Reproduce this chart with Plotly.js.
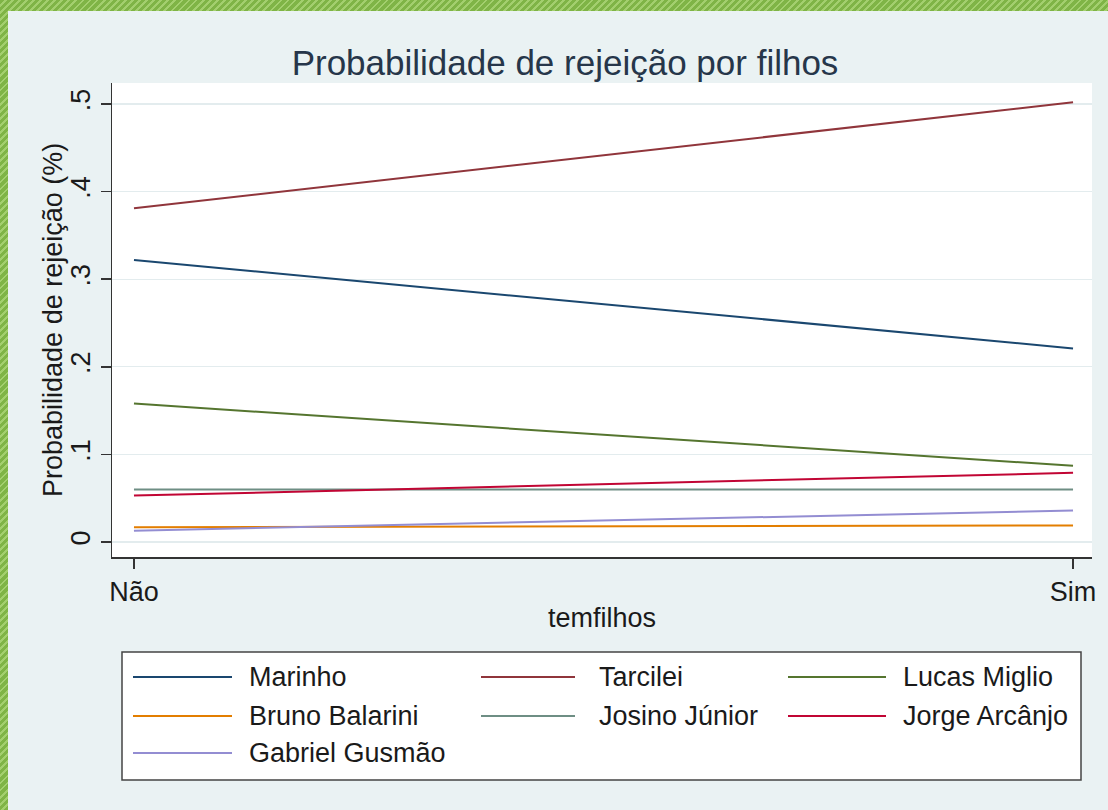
<!DOCTYPE html>
<html>
<head>
<meta charset="utf-8">
<script src="https://cdn.plot.ly/plotly-3.0.1.min.js"></script>
<style>
  html, body { margin: 0; padding: 0; width: 1108px; height: 810px; overflow: hidden; }
  body {
    background-color: #7fb446;
    background-image: repeating-linear-gradient(135deg, #7fb446 0px, #7fb446 3px, #a3cf6e 3px, #a3cf6e 5px);
  }
  #chart { position: absolute; left: 8px; top: 11px; width: 1100px; height: 799px; }
</style>
</head>
<body>
<div id="chart"></div>
<script>
// ---- data ----
const categories = ['Não', 'Sim'];
const xPositions = [0, 1];
const seriesNames = ['Marinho', 'Tarcilei', 'Lucas Miglio', 'Bruno Balarini', 'Josino Júnior', 'Jorge Arcânjo', 'Gabriel Gusmão'];
const marinho       = [0.322, 0.221];
const tarcilei      = [0.381, 0.502];
const lucasMiglio   = [0.158, 0.087];
const brunoBalarini = [0.017, 0.019];
const josinoJunior  = [0.060, 0.060];
const jorgeArcanjo  = [0.053, 0.079];
const gabrielGusmao = [0.013, 0.036];
const yTickVals   = [0, 0.1, 0.2, 0.3, 0.4, 0.5];
const yTickLabels = ['0', '.1', '.2', '.3', '.4', '.5'];
const titleText = 'Probabilidade de rejeição por filhos';
const xTitleText = 'temfilhos';
const yTitleText = 'Probabilidade de rejeição (%)';

const seriesValues = [marinho, tarcilei, lucasMiglio, brunoBalarini, josinoJunior, jorgeArcanjo, gabrielGusmao];
const seriesColors = ['#1a476f', '#90353b', '#55752f', '#e37e00', '#6e8e84', '#c10534', '#938dd2'];

const FONT = 'Liberation Sans, Arial, Helvetica, sans-serif';
const TXT = 27;
const M = { l: 104, r: 16, t: 72, b: 253 };
const W = 1100 - M.l - M.r;
const H = 799 - M.t - M.b;
const px = x => (x - M.l) / W;          // div px -> paper x
const py = y => (M.t + H - y) / H;      // div px -> paper y

const traces = seriesNames.map((name, i) => ({
  type: 'scatter',
  mode: 'lines',
  name: name,
  x: xPositions,
  y: seriesValues[i],
  line: { color: seriesColors[i], width: 2 },
  showlegend: false,
  hoverinfo: 'name+y'
}));

// ---- custom Stata-like legend (3 columns) ----
const shapes = [{
  type: 'rect', xref: 'paper', yref: 'paper',
  x0: px(114), x1: px(1073), y0: py(641), y1: py(769),
  line: { color: '#444', width: 1.5 }, fillcolor: '#ffffff', layer: 'below'
}];
const annotations = [];
const colLine = [[125, 224], [473, 567], [780, 878]];
const colText = [239, 589, 893];
const rowY = [666, 705, 742];
seriesNames.forEach((name, i) => {
  const c = i % 3, r = Math.floor(i / 3);
  shapes.push({
    type: 'line', xref: 'paper', yref: 'paper',
    x0: px(colLine[c][0]), x1: px(colLine[c][1]), y0: py(rowY[r]), y1: py(rowY[r]),
    line: { color: seriesColors[i], width: 2 }
  });
  annotations.push({
    xref: 'paper', yref: 'paper', x: px(colText[c]), y: py(rowY[r]),
    xanchor: 'left', yanchor: 'middle', showarrow: false, text: name,
    font: { family: FONT, size: TXT, color: '#1a1a1a' }
  });
});

// y-axis title (placed as in the reference)
annotations.push({
  xref: 'paper', yref: 'paper', x: px(45), y: 0.5,
  xanchor: 'center', yanchor: 'middle', textangle: -90, showarrow: false,
  text: yTitleText, font: { family: FONT, size: TXT, color: '#1a1a1a' }
});

const layout = {
  width: 1100, height: 799,
  margin: M,
  paper_bgcolor: '#eaf2f3',
  plot_bgcolor: '#ffffff',
  font: { family: FONT, color: '#1a1a1a', size: TXT },
  title: {
    text: titleText,
    font: { family: FONT, size: 35, color: '#26364a' },
    x: (565 - 8) / 1100, xanchor: 'center', xref: 'container',
    y: 1 - 52 / 799, yanchor: 'middle'
  },
  xaxis: {
    range: [-0.0234, 1.0202],
    tickvals: xPositions, ticktext: categories,
    showgrid: false, zeroline: false,
    showline: true, linecolor: '#333', linewidth: 1.5,
    ticks: 'outside', ticklen: 10, tickcolor: '#333', tickwidth: 1.5,
    tickfont: { family: FONT, size: TXT, color: '#1a1a1a' },
    title: { text: xTitleText, font: { family: FONT, size: TXT, color: '#1a1a1a' }, standoff: 2 },
    fixedrange: true
  },
  yaxis: {
    range: [-0.0171, 0.524],
    tickvals: yTickVals, ticktext: yTickLabels, tickangle: -90,
    showgrid: true, gridcolor: '#e3ecee', gridwidth: 1.2,
    zeroline: false,
    showline: true, linecolor: '#333', linewidth: 1.5,
    ticks: 'outside', ticklen: 10, tickcolor: '#333', tickwidth: 1.5,
    tickfont: { family: FONT, size: TXT, color: '#1a1a1a' },
    fixedrange: true
  },
  shapes: shapes,
  annotations: annotations,
  showlegend: false
};

Plotly.newPlot('chart', traces, layout, { displayModeBar: false, staticPlot: true });
</script>
</body>
</html>
